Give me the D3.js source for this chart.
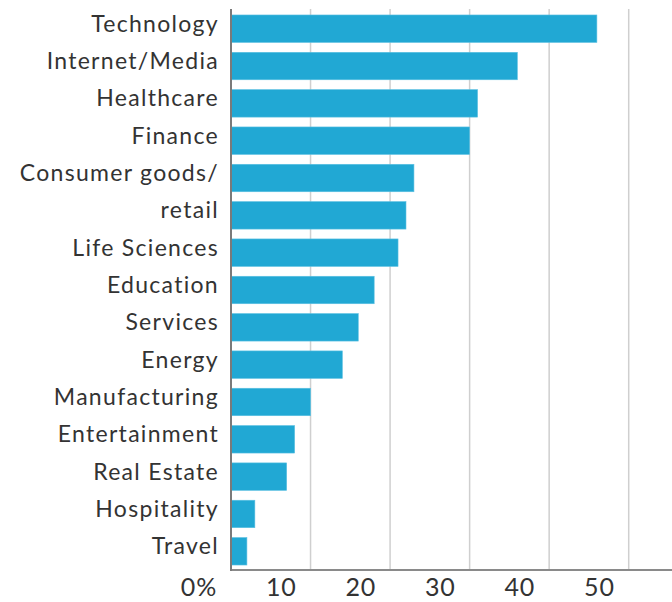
<!DOCTYPE html>
<html>
<head>
<meta charset="utf-8">
<script src="https://cdn.jsdelivr.net/npm/d3@7"></script>
<style>
  html, body { margin: 0; padding: 0; background: #fff; }
  svg { display: block; }
  text { font-family: Lato, "Open Sans", sans-serif; font-weight: 400; fill: #333; }
</style>
</head>
<body>
<svg id="chart" width="672" height="602"></svg>
<script>
// Share of respondents by industry (%)
const categories = [
  "Technology", "Internet/Media", "Healthcare", "Finance", "Consumer goods/",
  "retail", "Life Sciences", "Education", "Services", "Energy",
  "Manufacturing", "Entertainment", "Real Estate", "Hospitality", "Travel"
];
const values = [46, 36, 31, 30, 23, 22, 21, 18, 16, 14, 10, 8, 7, 3, 2];
const tickValues = [0, 10, 20, 30, 40, 50];
const tickLabels = ["0%", "10", "20", "30", "40", "50"];

const W = 672, H = 602;
const x0 = 231, axisY = 570, topY = 9;

const svg = d3.select("#chart");

const x = d3.scaleLinear().domain([0, 50]).range([x0, 628.7]);
const y = d3.scaleBand()
  .domain(categories)
  .range([topY, 571])
  .paddingInner(0.264)
  .paddingOuter(0.16);

// vertical gridlines
svg.append("g")
  .selectAll("line")
  .data(tickValues.slice(1))
  .join("line")
  .attr("x1", d => x(d)).attr("x2", d => x(d))
  .attr("y1", topY).attr("y2", axisY)
  .attr("stroke", "#cfcfcf")
  .attr("stroke-width", 1.5);

// bars
svg.append("g")
  .selectAll("rect")
  .data(values)
  .join("rect")
  .attr("x", x(0))
  .attr("y", (d, i) => y(categories[i]))
  .attr("width", d => x(d) - x(0))
  .attr("height", y.bandwidth())
  .attr("fill", "#21a8d4")
  .attr("stroke", "#5cc0e2")
  .attr("stroke-width", 0.6);

// category labels
svg.append("g")
  .selectAll("text")
  .data(categories)
  .join("text")
  .attr("x", x0 - 12)
  .attr("y", d => y(d) + y.bandwidth() / 2 + 3)
  .attr("text-anchor", "end")
  .attr("font-size", 23)
  .attr("letter-spacing", 1.3)
  .text(d => d);

// axis lines
svg.append("line")
  .attr("x1", x0).attr("x2", W)
  .attr("y1", axisY).attr("y2", axisY)
  .attr("stroke", "#8a8a8a").attr("stroke-width", 2);
svg.append("line")
  .attr("x1", x0).attr("x2", x0)
  .attr("y1", topY).attr("y2", axisY + 1)
  .attr("stroke", "#7a7a7a").attr("stroke-width", 2);

// tick labels
svg.append("g")
  .selectAll("text")
  .data(tickValues)
  .join("text")
  .attr("x", d => x(d) - 14)
  .attr("y", 596)
  .attr("text-anchor", "end")
  .attr("font-size", 25)
  .attr("letter-spacing", 0.8)
  .text((d, i) => tickLabels[i]);
</script>
</body>
</html>
